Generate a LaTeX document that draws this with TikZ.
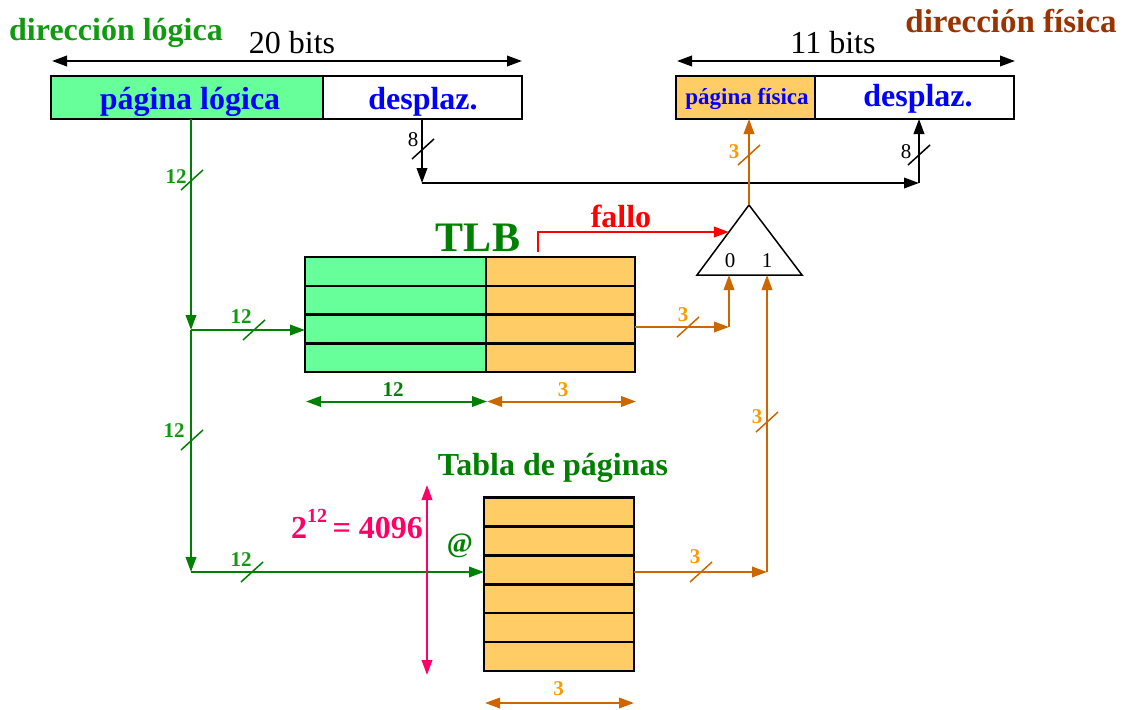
\documentclass[tikz,border=0pt]{standalone}
\usepackage{fontspec}
\setmainfont{Liberation Serif}
\usetikzlibrary{arrows.meta,calc}
\definecolor{lgreen}{HTML}{66FF99}
\definecolor{lorange}{HTML}{FFCC66}
\definecolor{dgreen}{HTML}{008000}
\definecolor{tgreen}{HTML}{109A10}
\definecolor{borange}{HTML}{CC6600}
\definecolor{yorange}{HTML}{FF9900}
\definecolor{tbrown}{HTML}{993300}
\definecolor{tpink}{HTML}{FF0066}
\newcommand\szbig{\fontsize{32}{32}\selectfont}
\newcommand\szsmall{\fontsize{21}{21}\selectfont}
\begin{document}
\begin{tikzpicture}[x=1pt,y=-1pt,
  box/.style={draw, line width=2.5pt, inner sep=0pt, outer sep=0pt},
  boxtext/.style={font=\bfseries\szbig, text=blue, inner sep=0pt, anchor=base},
  conn/.style={line width=2pt},
  gconn/.style={conn, draw=dgreen},
  oconn/.style={conn, draw=borange},
  tip/.style={-{Triangle[length=15pt,width=10.5pt]}},
  dtip/.style={{Triangle[length=15pt,width=10.5pt]}-{Triangle[length=15pt,width=10.5pt]}},
  lbl/.style={font=\bfseries\szsmall, inner sep=0pt},
  rlbl/.style={font=\szsmall, inner sep=0pt},
  pics/bus/.style={code={\draw[line width=1.5pt] (-11,10) -- (11,-10);}}
]
\useasboundingbox (0,0) rectangle (1129,709);

% ---------- top titles ----------
\node[font=\bfseries\szbig, text=tgreen, inner sep=0pt, anchor=base] (tl) at (116,41) {dirección lógica};
\node[font=\bfseries\fontsize{33}{33}\selectfont, text=tbrown, inner sep=0pt, anchor=base] (tf) at (1011,33) {dirección física};

% ---------- logical address ----------
\node[box, fill=lgreen, minimum width=272pt, minimum height=43pt] (lp) at (187,97.5) {};
\node[box, minimum width=199pt, minimum height=43pt] (ld) at (422.5,97.5) {};
\node[boxtext] (lpt) at (190,109.5) {página lógica};
\node[boxtext] (ldt) at (423,109.5) {desplaz.};
\coordinate (a20l) at (52,61);
\coordinate (a20r) at (522,61);
\draw[conn,dtip] (a20l) -- (a20r);
\node[font=\szbig, inner sep=0pt, anchor=base] (b20) at (292,53) {20 bits};

% ---------- physical address ----------
\node[box, fill=lorange, minimum width=139pt, minimum height=43pt] (pp) at (745.5,97.5) {};
\node[box, minimum width=199pt, minimum height=43pt] (pd) at (914.5,97.5) {};
\node[boxtext, font=\bfseries\fontsize{23}{23}\selectfont] (ppt) at (747,104) {página física};
\node[boxtext] (pdt) at (918,106.5) {desplaz.};
\coordinate (a11l) at (677,61);
\coordinate (a11r) at (1015,61);
\draw[conn,dtip] (a11l) -- (a11r);
\node[font=\szbig, inner sep=0pt, anchor=base] (b11) at (833,53) {11 bits};

% ---------- offset path ----------
\coordinate (d1) at (422,183);
\coordinate (d2) at (919,183);
\draw[conn,tip] (ld.south -| d1) -- (d1);
\draw[conn,tip] (d1) -- (d2);
\draw[conn,tip] (d2) -- (pd.south -| d2);
\pic at (423,149) {bus};
\node[rlbl] (l8a) at (413,140) {8};
\pic at (919,155) {bus};
\node[rlbl] (l8b) at (906,152) {8};

% ---------- TLB ----------
\node[minimum width=330pt, minimum height=115pt, inner sep=0pt, outer sep=0pt] (tlb) at (470,314.5) {};
\fill[lgreen] (tlb.north west) rectangle (486,372);
\fill[lorange] (486,257) rectangle (tlb.south east);
\foreach \yy in {285.75,314.5,343.25} \draw[line width=2.5pt] (305,\yy) -- (635,\yy);
\draw[line width=2.5pt] (486,257) -- (486,372);
\draw[line width=2.5pt] (tlb.north west) rectangle (tlb.south east);
\node[font=\bfseries\fontsize{42}{42}\selectfont, text=dgreen, inner sep=0pt] (tlbt) at (478,238) {TLB};

% ---------- page table ----------
\node[minimum width=150pt, minimum height=173.5pt, inner sep=0pt, outer sep=0pt] (pt) at (559,584.25) {};
\fill[lorange] (pt.north west) rectangle (pt.south east);
\foreach \yy in {526.4,555.3,584.25,613.2,642.1} \draw[line width=2.5pt] (484,\yy) -- (634,\yy);
\draw[line width=2.5pt] (pt.north west) rectangle (pt.south east);
\node[font=\bfseries\fontsize{32}{32}\selectfont, text=dgreen, inner sep=0pt] (ptt) at (553,468) {Tabla de páginas};

% ---------- multiplexer ----------
\coordinate (mA) at (749,205);
\coordinate (mL) at (697,275);
\coordinate (mR) at (802,275);
\draw[line width=1.5pt, line join=miter] (mA) -- (mL) -- (mR) -- cycle;
\node[rlbl] (m0) at (730,261) {0};
\node[rlbl] (m1) at (767,261) {1};
\coordinate (mfl) at ($(mA)!0.386!(mL)$);

% mux output
\draw[oconn,tip] (mA) -- (mA |- pp.south);
\pic[borange] at (749,155) {bus};
\node[lbl, text=yorange] (l3a) at (734,152) {3};

% fallo
\coordinate (f0) at (538,252);
\draw[conn, draw=red, tip] (f0) |- (mfl);
\node[font=\bfseries\fontsize{32}{32}\selectfont, text=red, inner sep=0pt] (fl) at (621,216) {fallo};

% ---------- green paths ----------
\coordinate (g1) at (191,330);
\coordinate (g2) at (191,572);
\draw[gconn,tip] (lp.south -| g1) -- (g1);
\draw[gconn,tip] (g1) -- (g1 -| tlb.west);
\draw[gconn,tip] (g1) -- (g2);
\draw[gconn,tip] (g2) -- (g2 -| pt.west);
\pic[dgreen] at (192,180) {bus};
\node[lbl, text=tgreen] (l12a) at (176,177) {12};
\pic[dgreen] at (192,440) {bus};
\node[lbl, text=tgreen] (l12b) at (174,431) {12};
\pic[dgreen] at (254,330) {bus};
\node[lbl, text=tgreen] (l12c) at (241,317) {12};
\pic[dgreen] at (252,572) {bus};
\node[lbl, text=tgreen] (l12d) at (241,560) {12};

% ---------- orange paths ----------
\coordinate (t0) at (729,327);
\draw[oconn,tip] (tlb.east |- t0) -- (t0);
\draw[oconn,tip] (t0) -- (t0 |- mL);
\pic[borange] at (688,327) {bus};
\node[lbl, text=yorange] (l3b) at (683,315) {3};

\coordinate (p1) at (767,572);
\draw[oconn,tip] (pt.east |- p1) -- (p1);
\draw[oconn,tip] (p1) -- (p1 |- mL);
\pic[borange] at (701,572) {bus};
\node[lbl, text=yorange] (l3c) at (695,557) {3};
\pic[borange] at (767,422) {bus};
\node[lbl, text=yorange] (l3d) at (757,417) {3};

% ---------- dimension arrows ----------
\coordinate (dt1) at (306,401.5);
\coordinate (dt2) at (487,401.5);
\coordinate (dt3) at (636,401.5);
\draw[gconn,dtip] (dt1) -- (dt2);
\draw[oconn,dtip] (dt2) -- (dt3);
\node[lbl, text=dgreen] (l12e) at (393,390) {12};
\node[lbl, text=yorange] (l3e) at (563,390) {3};

\coordinate (db1) at (485,703);
\coordinate (db2) at (634,703);
\draw[oconn,dtip] (db1) -- (db2);
\node[lbl, text=yorange] (l3f) at (558.5,689) {3};

% ---------- size of page table ----------
\coordinate (pk1) at (427,485);
\coordinate (pk2) at (427,675);
\draw[conn, draw=tpink, dtip] (pk1) -- (pk2);
\node[font=\bfseries\fontsize{32}{32}\selectfont, text=tpink, inner sep=0pt, anchor=base] (pw) at (357,538) {2\raisebox{0.5em}{\fontsize{20}{20}\selectfont 12}\,= 4096};
\node[font=\bfseries\fontsize{28}{28}\selectfont, text=dgreen, inner sep=0pt] (at) at (460,546) {@};
\end{tikzpicture}
\end{document}
